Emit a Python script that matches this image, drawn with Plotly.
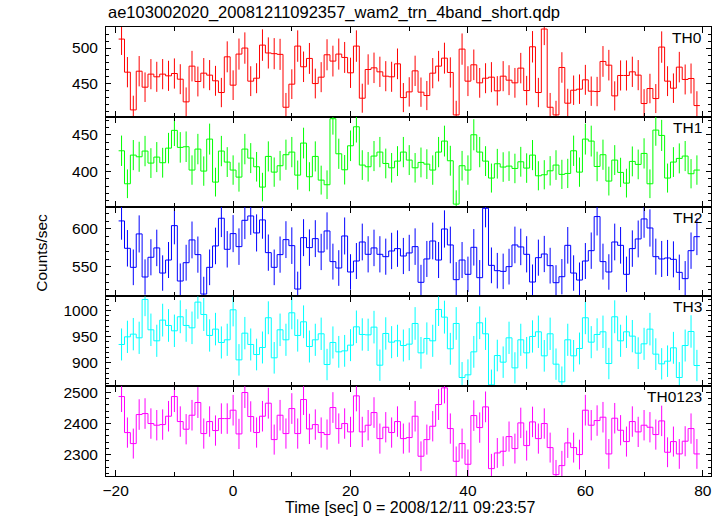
import numpy as np
import plotly.graph_objects as go
from plotly.subplots import make_subplots

TITLE = "ae103002020_20081211092357_wam2_trn_4band_short.qdp"
X_TITLE = "Time [sec] 0 = 2008/12/11 09:23:57"
Y_TITLE = "Counts/sec"
BIN_START = -19.5
BIN_WIDTH = 1.0

th0 = [512.8, 465.6, 411.8, 467.0, 444.2, 462.8, 459.0, 462.8, 460.4, 463.7,
       455.6, 423.3, 474.2, 452.3, 464.2, 461.4, 453.3, 436.6, 487.5, 447.1,
       491.4, 500.0, 452.8, 457.0, 504.2, 493.0, 492.0, 491.0, 415.6, 448.5,
       502.8, 473.3, 485.2, 449.4, 458.5, 490.4, 481.4, 491.4, 486.6, 464.7,
       502.8, 428.5, 469.4, 471.8, 466.1, 459.9, 459.0, 477.5, 429.4, 437.5,
       467.5, 437.1, 432.3, 464.2, 474.2, 485.6, 465.2, 404.7, 498.5, 452.8,
       476.1, 450.4, 457.0, 458.5, 439.0, 459.9, 454.2, 450.4, 471.4, 439.4,
       501.8, 436.6, 527.1, 415.6, 404.7, 472.3, 421.4, 439.9, 441.4, 454.7,
       438.5, 438.0, 480.9, 475.6, 431.8, 460.9, 460.9, 466.1, 461.4, 420.9,
       442.3, 428.0, 501.4, 452.8, 442.8, 472.8, 455.2, 456.6, 418.0]

th1 = [428.2, 383.2, 422.3, 420.0, 427.8, 411.4, 419.6, 411.9, 431.8, 456.0,
       432.8, 433.7, 401.9, 430.5, 400.5, 444.1, 385.5, 427.8, 412.8, 401.9,
       392.3, 430.5, 418.2, 406.4, 378.7, 420.5, 399.1, 407.8, 422.8, 426.4,
       395.0, 438.7, 392.8, 420.5, 388.2, 381.9, 471.9, 424.1, 402.3, 435.0,
       460.9, 408.7, 406.4, 421.0, 426.4, 410.9, 405.0, 414.1, 426.4, 415.5,
       405.0, 412.3, 410.0, 401.9, 426.4, 441.4, 414.6, 355.5, 407.8, 401.9,
       450.0, 426.4, 414.1, 391.0, 410.5, 406.0, 407.3, 404.1, 413.2, 404.6,
       422.3, 394.1, 395.5, 400.9, 408.7, 396.0, 397.3, 428.2, 399.1, 444.1,
       441.4, 406.8, 422.8, 386.9, 415.5, 398.7, 384.1, 413.7, 409.6, 424.6,
       383.2, 456.4, 449.1, 391.0, 412.8, 417.8, 421.0, 396.9, 401.9]

th2 = [610.5, 574.5, 549.5, 593.4, 536.8, 562.7, 575.0, 542.0, 559.1, 604.3,
       531.5, 555.6, 585.5, 566.2, 514.4, 549.5, 577.6, 614.0, 573.2, 593.8,
       576.7, 611.3, 617.0, 594.7, 611.8, 568.8, 549.5, 566.2, 585.9, 578.0,
       521.0, 588.5, 575.4, 587.2, 569.7, 597.3, 557.0, 548.6, 590.7, 543.4,
       557.8, 582.8, 566.6, 575.0, 566.6, 563.5, 571.0, 574.1, 564.4, 568.4,
       576.7, 529.8, 560.5, 584.1, 559.1, 599.9, 578.9, 533.3, 559.1, 540.3,
       575.8, 535.9, 627.1, 552.1, 545.1, 544.2, 550.4, 578.9, 576.3, 566.6,
       530.2, 562.2, 567.0, 551.7, 529.3, 537.2, 578.4, 542.0, 532.8, 557.8,
       571.4, 616.2, 557.0, 543.4, 582.8, 578.4, 540.3, 574.1, 586.8, 613.1,
       601.2, 563.5, 560.5, 561.8, 560.0, 542.9, 534.6, 571.4, 589.8]

th3 = [935.0, 949.6, 954.7, 947.7, 1021.0, 963.0, 942.0, 981.5, 971.3, 961.1,
       987.9, 971.3, 966.8, 1015.9, 992.3, 952.2, 964.3, 938.8, 943.9, 1001.2,
       905.6, 956.6, 935.0, 915.8, 929.2, 986.0, 909.5, 963.0, 943.9, 995.5,
       952.2, 978.3, 931.1, 943.9, 955.4, 896.7, 938.8, 920.9, 922.8, 933.7,
       968.7, 954.1, 953.4, 968.1, 895.4, 956.0, 939.4, 942.0, 933.0, 935.6,
       975.1, 919.0, 946.4, 942.0, 1001.9, 987.2, 926.7, 975.1, 871.9, 877.0,
       920.9, 976.4, 955.4, 857.8, 913.9, 901.2, 947.7, 890.3, 943.9, 919.0,
       950.3, 959.2, 913.3, 955.4, 897.4, 863.6, 943.9, 913.3, 927.3, 986.0,
       939.4, 954.1, 959.2, 898.6, 987.9, 942.0, 959.2, 950.9, 918.4, 936.2,
       964.3, 916.5, 898.0, 903.1, 928.6, 871.9, 933.0, 959.8, 894.8]

th0123 = [2487.0, 2370.9, 2335.4, 2429.0, 2432.2, 2400.0, 2394.6, 2396.7, 2423.6, 2487.0,
          2406.4, 2381.7, 2426.8, 2467.7, 2367.7, 2406.4, 2377.4, 2416.0, 2416.0, 2443.0,
          2366.6, 2500.0, 2422.5, 2371.0, 2423.6, 2465.5, 2348.3, 2426.8, 2367.7, 2448.3,
          2367.7, 2477.4, 2382.7, 2396.7, 2371.0, 2364.5, 2451.6, 2383.8, 2400.0, 2373.1,
          2489.2, 2373.1, 2394.6, 2435.4, 2351.5, 2388.1, 2371.0, 2406.4, 2351.5, 2354.8,
          2423.6, 2294.6, 2348.3, 2391.3, 2461.2, 2515.0, 2383.8, 2278.4, 2335.4, 2268.8,
          2425.7, 2387.0, 2453.7, 2254.8, 2305.3, 2310.7, 2358.0, 2319.3, 2402.1, 2329.0,
          2405.3, 2351.5, 2400.0, 2322.5, 2235.4, 2264.5, 2337.6, 2322.5, 2300.0, 2443.0,
          2394.6, 2409.6, 2420.4, 2302.1, 2417.1, 2378.4, 2341.9, 2406.4, 2373.1, 2394.6,
          2388.1, 2364.5, 2408.5, 2307.5, 2341.9, 2302.1, 2343.0, 2383.8, 2302.1]

series = [th0, th1, th2, th3, th0123]
labels = ["TH0", "TH1", "TH2", "TH3", "TH0123"]
colors = ["#ff0000", "#00ff00", "#0000ff", "#00ffff", "#ff00ff"]
y_ranges = [[402, 530], [352.1, 474.5], [511.3, 629.3], [855.3, 1026.8], [2231, 2520.3]]
y_dticks = [50, 50, 50, 50, 100]
y_minor = [10, 10, 10, 10, 20]
x_range = [-21.65, 81.4]
x_tick_vals = [-20, 0, 20, 40, 60, 80]

FONT = "Liberation Sans, Arial, Helvetica, sans-serif"

fig = make_subplots(rows=5, cols=1, shared_xaxes=True, vertical_spacing=0)

for i, vals in enumerate(series):
    v = np.array(vals, dtype=float)
    n = len(v)
    centers = BIN_START + BIN_WIDTH * (np.arange(n) + 0.5)
    edges = BIN_START + BIN_WIDTH * np.arange(n + 1)
    ystep = np.append(v, v[-1])
    c = colors[i]
    fig.add_trace(go.Scatter(
        x=centers, y=v, mode="markers",
        marker=dict(size=1, color="rgba(0,0,0,0)"),
        error_y=dict(type="data", array=np.sqrt(v), width=0, thickness=1, color=c),
        hoverinfo="skip", showlegend=False), row=i + 1, col=1)
    fig.add_trace(go.Scatter(
        x=edges, y=ystep, mode="lines",
        line=dict(color=c, width=1, shape="hv"),
        hoverinfo="skip", showlegend=False), row=i + 1, col=1)

    fig.update_yaxes(
        range=y_ranges[i], tick0=0, dtick=y_dticks[i],
        ticks="inside", ticklen=5, tickwidth=1, tickcolor="black",
        minor=dict(dtick=y_minor[i], ticks="inside", ticklen=3, tickcolor="black", showgrid=False),
        showline=True, linecolor="black", linewidth=1, mirror="ticks",
        showgrid=False, zeroline=False, ticklabelstandoff=4,
        tickfont=dict(family=FONT, size=15.5, color="black"),
        row=i + 1, col=1)
    fig.update_xaxes(
        range=x_range, tickmode="array", tickvals=x_tick_vals,
        ticks="inside", ticklen=6, tickwidth=1, tickcolor="black",
        minor=dict(dtick=10, tick0=0, ticks="inside", ticklen=4, tickcolor="black", showgrid=False),
        showline=True, linecolor="black", linewidth=1, mirror="ticks",
        showgrid=False, zeroline=False,
        showticklabels=(i == 4),
        tickfont=dict(family=FONT, size=15.5, color="black"),
        row=i + 1, col=1)

    yref = "y domain" if i == 0 else f"y{i + 1} domain"
    fig.add_annotation(text=labels[i], xref="paper", yref=yref,
                       x=0.988, y=1.0, xanchor="right", yanchor="top",
                       showarrow=False,
                       font=dict(family=FONT, size=15.5, color="black"))

fig.add_annotation(text=TITLE, xref="paper", yref="paper", x=0.0, y=1.032,
                   xanchor="left", yanchor="middle", showarrow=False,
                   font=dict(family=FONT, size=16.5, color="black"))
fig.add_annotation(text=X_TITLE, xref="paper", yref="paper", x=0.503, y=-0.07,
                   xanchor="center", yanchor="middle", showarrow=False,
                   font=dict(family=FONT, size=16, color="black"))
fig.add_annotation(text=Y_TITLE, xref="paper", yref="paper", x=-0.106, y=0.497,
                   xanchor="center", yanchor="middle", textangle=-90, showarrow=False,
                   font=dict(family=FONT, size=15.5, color="black"))

fig.update_layout(
    width=725, height=516,
    margin=dict(l=106, r=14, t=27, b=40),
    paper_bgcolor="white", plot_bgcolor="white",
    showlegend=False,
)

fig.write_html("out.html",
               config={"displayModeBar": False, "staticPlot": True},
               post_script="document.body.style.margin='0';document.body.style.overflow='hidden';")
